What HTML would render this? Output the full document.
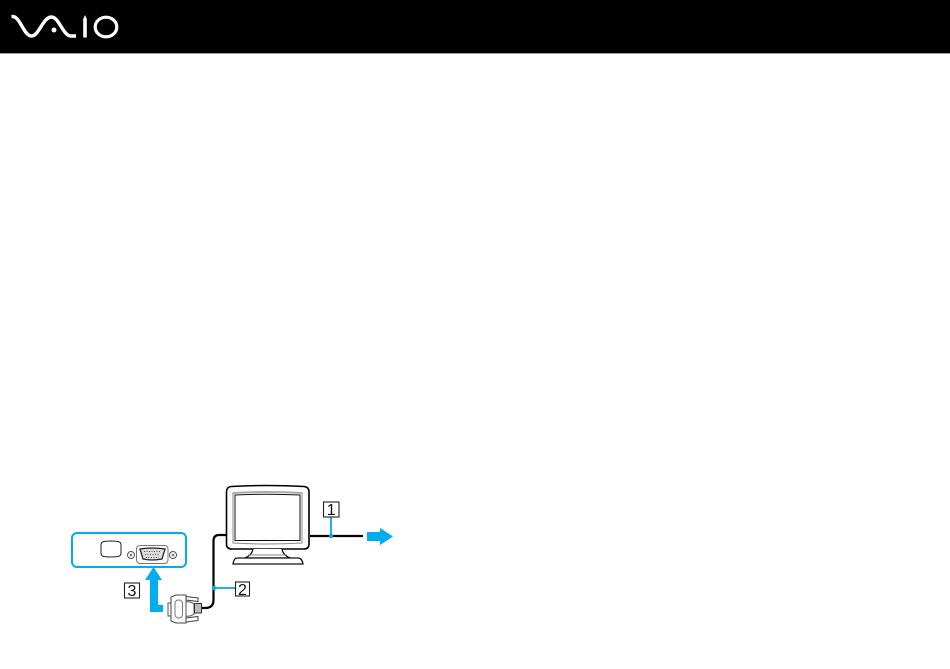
<!DOCTYPE html>
<html>
<head>
<meta charset="utf-8">
<style>
html,body{margin:0;padding:0;background:#fff;width:950px;height:669px;overflow:hidden}
svg{display:block}
text{font-family:"Liberation Sans",sans-serif;font-size:16px;fill:#111}
</style>
</head>
<body>
<svg width="950" height="669" viewBox="0 0 950 669" xmlns="http://www.w3.org/2000/svg">
<rect width="950" height="53" fill="#000"/>
<rect y="53" width="950" height="1" fill="#999"/>
<!-- logo -->
<path d="M11.500 16.500H13C20 17 24 36 31.500 36C39 36 43 17 51.500 17C59 17 63 36 71 36H76" fill="none" stroke="#fff" stroke-width="3.400"/>
<circle cx="54" cy="30" r="2.500" fill="#fff"/>
<path d="M85 15L86.800 19V37.500H83.200V19Z" fill="#fff"/>
<ellipse cx="106" cy="27" rx="10.800" ry="9.800" fill="none" stroke="#fff" stroke-width="3.200"/>

<!-- monitor -->
<path d="M226.500 492Q226.500 487 231 486.500Q267 484.500 304 486.500Q309 487 309 492V544Q309 549 304 549H231.500Q226.500 549 226.500 544Z" fill="#fff" stroke="#000" stroke-width="1.600"/>
<path d="M233 493Q267 491 302 493V543Q267 545 233 543Z" fill="#fff" stroke="#888" stroke-width="1"/>
<path d="M235 495Q267 493.500 300 495V540.500H235Z" fill="#fff" stroke="#111" stroke-width="1"/>
<path d="M233 493Q267 491 302 493" fill="none" stroke="#aaa" stroke-width="2"/>
<path d="M253 549Q252 555 245 558H290Q283 555 282 549" fill="#fff" stroke="#111" stroke-width="1.300"/>
<path d="M237 558H298Q302 558 303 564H233Q234 558 237 558Z" fill="#fff" stroke="#111" stroke-width="1.300"/>
<path d="M248 555H287" stroke="#888" stroke-width="1"/>

<!-- cables -->
<path d="M310 536H363" stroke="#000" stroke-width="2.200" fill="none"/>
<path d="M226 535H219Q213.500 535 213.500 541V600Q213.500 608 205 608H200" stroke="#000" stroke-width="2.200" fill="none"/>

<!-- leader lines -->
<path d="M331 517V536" stroke="#00a8e8" stroke-width="1.800"/>
<circle cx="331" cy="536" r="2.200" fill="#00a8e8"/>
<path d="M214 588H235" stroke="#00a8e8" stroke-width="1.800"/>
<circle cx="214" cy="588" r="2.200" fill="#00a8e8"/>

<!-- arrow right -->
<path d="M367 532H380V528L393 536.500L380 545V541H367Z" fill="#00aeef"/>

<!-- panel -->
<rect x="72" y="533" width="114" height="34" rx="5" fill="#fff" stroke="#00aeef" stroke-width="2"/>
<path d="M104 541.500Q111 540.500 118 541.500Q121 542 121 545V553Q121 556 118 556.500Q111 557.500 104 556.500Q101 556 101 553V545Q101 542 104 541.500Z" fill="#fff" stroke="#222" stroke-width="1"/>
<rect x="136.500" y="545.500" width="31.500" height="18" rx="3.500" fill="#fff" stroke="#777" stroke-width="1"/>
<path d="M140 549Q152 547 165 549L162 559Q152 561 143 559Z" fill="#ddd" stroke="#222" stroke-width="1.300"/>
<path d="M144 551.500H161M145 554.500H160M146 557.500H159" stroke="#555" stroke-width="1" stroke-dasharray="1 1.500"/>
<circle cx="131" cy="555" r="3.500" fill="#fff" stroke="#555" stroke-width="1"/>
<circle cx="131" cy="555" r="1.300" fill="#777"/>
<circle cx="173" cy="555" r="3.500" fill="#fff" stroke="#555" stroke-width="1"/>
<circle cx="173" cy="555" r="1.300" fill="#777"/>

<!-- up arrow -->
<path d="M153.500 567L162 580H158V605H163V612H150V580H145Z" fill="#00aeef"/>

<!-- connector -->
<path d="M168 603H171V616H168Z" fill="#fff" stroke="#555" stroke-width="1"/>
<path d="M171 597L176 595H186V623H176L171 621Z" fill="#fff" stroke="#444" stroke-width="1"/>
<rect x="175" y="600" width="7.500" height="18" rx="3.500" fill="#fff" stroke="#777" stroke-width="1"/>
<path d="M186 596.500L198 598V601.500L186 600Z" fill="#fff" stroke="#444" stroke-width="1"/>
<path d="M186 618L198 616.500V620.500L186 622Z" fill="#fff" stroke="#444" stroke-width="1"/>
<path d="M186 602Q190 601 194 604V614Q190 617 186 616Z" fill="#fff" stroke="#555" stroke-width="1"/>
<rect x="194.500" y="603.500" width="7" height="9.500" fill="#bbb" stroke="#333" stroke-width="1"/>

<!-- label boxes -->
<rect x="323.500" y="502" width="15.500" height="15" fill="#fff" stroke="#222" stroke-width="1.100"/>
<text x="331.200" y="515" text-anchor="middle">1</text>
<rect x="235.500" y="582" width="14" height="14" fill="#fff" stroke="#222" stroke-width="1.100"/>
<text x="242.500" y="594.800" text-anchor="middle">2</text>
<rect x="124.500" y="583" width="15" height="15" fill="#fff" stroke="#222" stroke-width="1.100"/>
<text x="132" y="596" text-anchor="middle">3</text>
</svg>
</body>
</html>
